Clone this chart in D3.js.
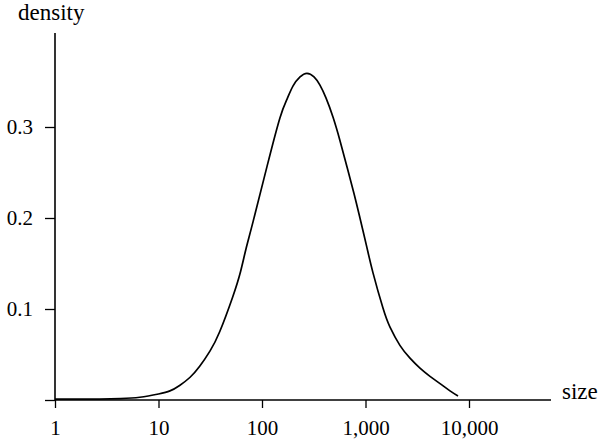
<!DOCTYPE html>
<html>
<head>
<meta charset="utf-8">
<script src="https://cdn.jsdelivr.net/npm/d3@7"></script>
<style>
  html, body { margin: 0; padding: 0; background: #fff; }
  svg { display: block; }
</style>
</head>
<body>
<svg id="chart" width="600" height="444"></svg>
<script>
// Data
const sizes   = [1, 2.7, 4.3, 6.6, 10, 12.9, 16, 20.2, 25, 31.5, 39, 52, 62, 70, 82, 112, 149, 175, 199, 233, 272, 318, 363, 415, 485, 567, 663, 774, 884, 1030, 1180, 1475, 1725, 2150, 2690, 3360, 4200, 5250, 6550, 7830];
const density = [0.001, 0.001, 0.0015, 0.003, 0.0066, 0.010, 0.016, 0.025, 0.037, 0.054, 0.075, 0.113, 0.141, 0.166, 0.196, 0.257, 0.310, 0.331, 0.345, 0.355, 0.359, 0.355, 0.346, 0.332, 0.311, 0.285, 0.256, 0.227, 0.200, 0.168, 0.140, 0.101, 0.080, 0.060, 0.046, 0.035, 0.026, 0.018, 0.010, 0.0044];
const xTicks = [1, 10, 100, 1000, 10000];
const yTicks = [0, 0.1, 0.2, 0.3];
const xTitle = "size";
const yTitle = "density";

const svg = d3.select("#chart");
const serif = "'Liberation Serif', 'Times New Roman', serif";

const x = d3.scaleLog().domain([1, 10000]).range([55, 469]);
const y = d3.scaleLinear().domain([0, 0.3]).range([400, 127]);

// axis lines
svg.append("line").attr("x1", 55).attr("x2", 551).attr("y1", y(0)).attr("y2", y(0))
  .attr("stroke", "#000").attr("stroke-width", 1.6);
svg.append("line").attr("x1", 55).attr("x2", 55).attr("y1", 33).attr("y2", y(0))
  .attr("stroke", "#000").attr("stroke-width", 1.6);

// x axis
const xAxis = d3.axisBottom(x).tickValues(xTicks).tickSize(8).tickPadding(12)
  .tickFormat(d3.format(","));
const gx = svg.append("g").attr("transform", `translate(0,${y(0)})`).call(xAxis);
gx.select(".domain").remove();
gx.selectAll(".tick line").attr("stroke", "#000").attr("stroke-width", 1.3);
gx.selectAll(".tick text").attr("font-family", serif).attr("font-size", 21).attr("fill", "#000");

// y axis
const yAxis = d3.axisLeft(y).tickValues(yTicks).tickSize(10).tickPadding(12)
  .tickFormat(d => d === 0 ? "" : d3.format(".1f")(d));
const gy = svg.append("g").attr("transform", `translate(55,0)`).call(yAxis);
gy.select(".domain").remove();
gy.selectAll(".tick line").attr("stroke", "#000").attr("stroke-width", 1.3);
gy.selectAll(".tick text").attr("font-family", serif).attr("font-size", 21).attr("fill", "#000");

// titles
svg.append("text").attr("x", 18).attr("y", 20).text(yTitle)
  .attr("font-family", serif).attr("font-size", 23).attr("fill", "#000");
svg.append("text").attr("x", 562).attr("y", 399).text(xTitle)
  .attr("font-family", serif).attr("font-size", 23).attr("fill", "#000");

// curve
const line = d3.line()
  .x((d, i) => x(sizes[i]))
  .y((d, i) => y(density[i]))
  .curve(d3.curveNatural);
svg.append("path").datum(density).attr("d", line)
  .attr("fill", "none").attr("stroke", "#000").attr("stroke-width", 1.7);
</script>
</body>
</html>
